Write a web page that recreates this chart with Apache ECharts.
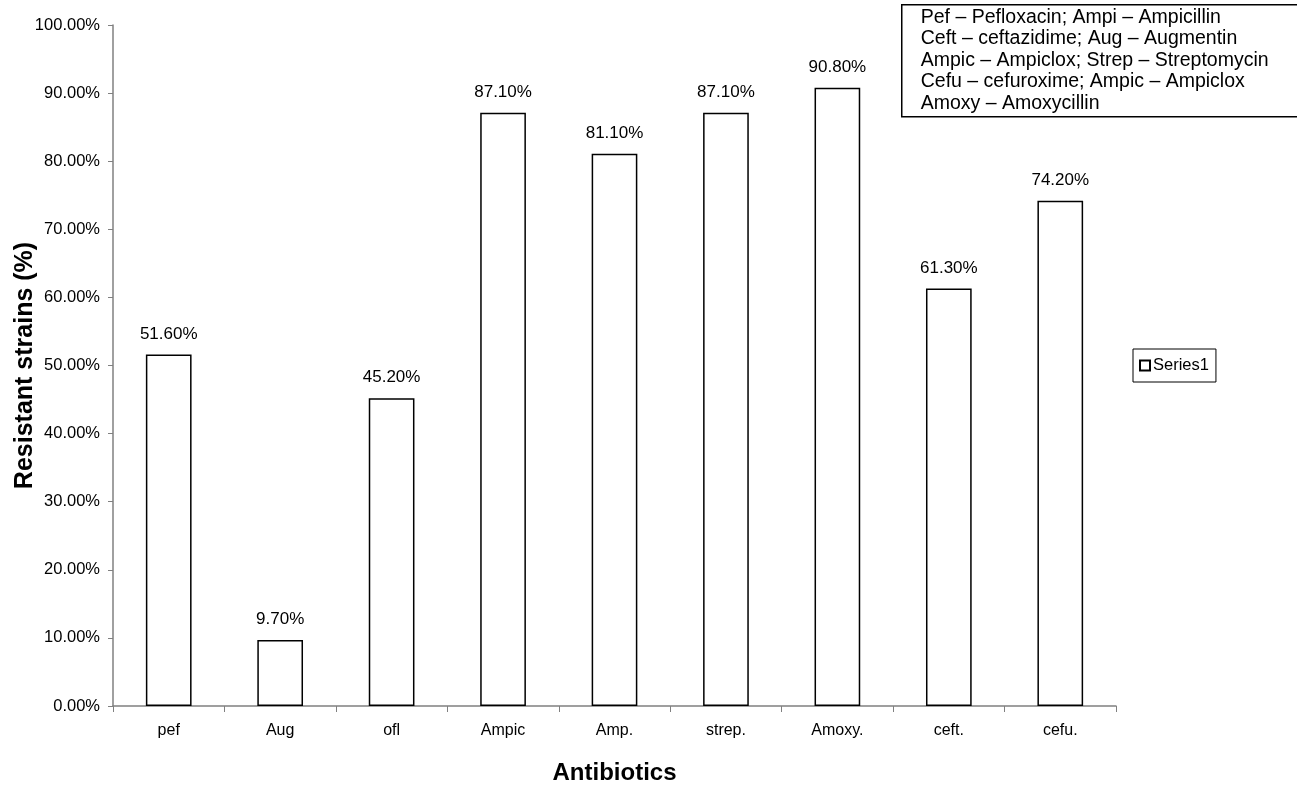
<!DOCTYPE html>
<html><head><meta charset="utf-8">
<script src="https://cdn.jsdelivr.net/npm/echarts@6/dist/echarts.min.js"></script>
<style>html,body{margin:0;padding:0;background:#fff}#c{width:1297px;height:790px}</style>
</head><body><div id="c"></div>
<script>
const categories = ['pef','Aug','ofl','Ampic','Amp.','strep.','Amoxy.','ceft.','cefu.'];
const series1 = [51.6, 9.7, 45.2, 87.1, 81.1, 87.1, 90.8, 61.3, 74.2];
const yTicks = {min: 0, max: 100, interval: 10};
const noteLines = [
  'Pef \u2013 Pefloxacin; Ampi \u2013 Ampicillin',
  'Ceft \u2013 ceftazidime; Aug \u2013 Augmentin',
  'Ampic \u2013 Ampiclox; Strep \u2013 Streptomycin',
  'Cefu \u2013 cefuroxime; Ampic \u2013 Ampiclox',
  'Amoxy \u2013 Amoxycillin'
];
const F = 'Liberation Sans, Arial, sans-serif';
const chart = echarts.init(document.getElementById('c'));
chart.setOption({
  animation: false,
  backgroundColor: '#fff',
  textStyle: {fontFamily: F},
  grid: {left: 113, right: 181, top: 25, bottom: 84, containLabel: false, outerBoundsMode: 'none'},
  legend: {
    data: [{name: 'Series1', icon: 'rect'}],
    left: 1133, top: 349,
    orient: 'vertical',
    itemWidth: 10, itemHeight: 10, itemGap: 4,
    padding: [8, 7, 8, 6],
    borderColor: '#000', borderWidth: 1,
    textStyle: {fontFamily: F, fontSize: 16.5, color: '#000', padding: [0,0,0,-2]}
  },
  xAxis: {
    type: 'category', data: categories,
    name: 'Antibiotics', nameLocation: 'middle', nameGap: 55, nameMoveOverlap: false,
    nameTextStyle: {fontFamily: F, fontSize: 24, fontWeight: 'bold', color: '#000'},
    axisLine: {lineStyle: {color: '#808080', width: 1.5}},
    axisTick: {show: true, length: 6, lineStyle: {color: '#808080'}},
    axisLabel: {fontFamily: F, fontSize: 16, color: '#000', margin: 17}
  },
  yAxis: {
    type: 'value', min: yTicks.min, max: yTicks.max, interval: yTicks.interval,
    name: 'Resistant strains (%)', nameLocation: 'middle', nameGap: 75, nameMoveOverlap: false,
    nameTextStyle: {fontFamily: F, fontSize: 25, fontWeight: 'bold', color: '#000'},
    axisLine: {show: true, lineStyle: {color: '#808080', width: 1.5}},
    axisTick: {show: true, length: 5, lineStyle: {color: '#808080'}},
    splitLine: {show: false},
    axisLabel: {fontFamily: F, fontSize: 16.5, color: '#000', margin: 13,
      formatter: v => v.toFixed(2) + '%'}
  },
  series: [{
    name: 'Series1', type: 'bar', data: series1,
    barWidth: '41%',
    itemStyle: {color: '#fff', borderColor: '#000', borderWidth: 1.5},
    label: {show: true, position: 'top', distance: 12, fontFamily: F, fontSize: 17, color: '#000',
      formatter: p => p.value.toFixed(2) + '%'}
  }],
  graphic: [{
    type: 'group', left: 901, top: 4,
    children: [
      {type: 'rect', shape: {x: 0, y: 0, width: 420, height: 112},
       style: {fill: '#fff', stroke: '#000', lineWidth: 1.5}},
      {type: 'text', left: 19, top: 2,
       style: {text: noteLines.join('\n'), fontFamily: F, fontSize: 19.5, lineHeight: 21.5, fill: '#000'}}
    ]
  }]
});
</script></body></html>
